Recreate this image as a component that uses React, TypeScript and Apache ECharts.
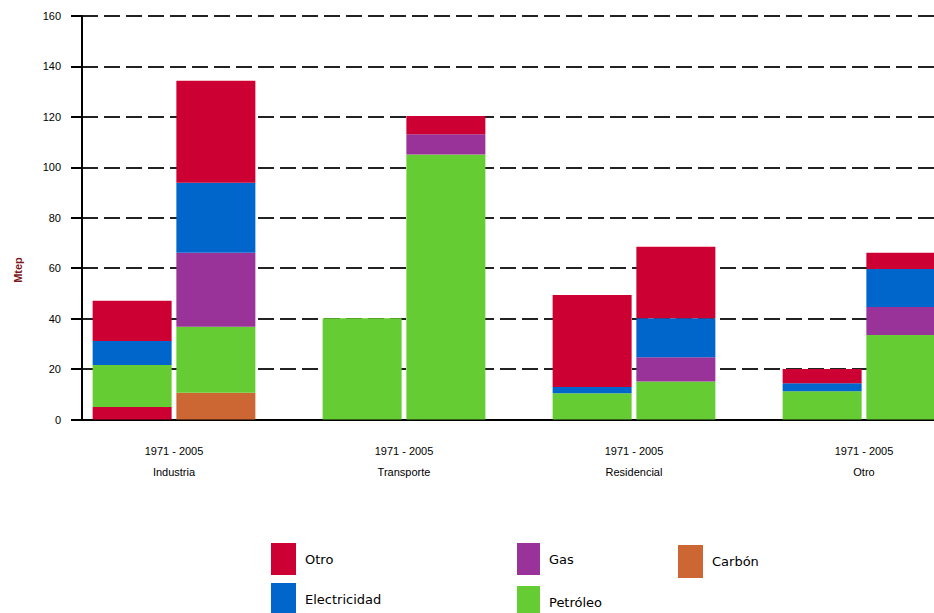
import React, { useEffect, useRef } from "react";
import * as echarts from "echarts";

const categories = ["Industria", "Transporte", "Residencial", "Otro"];
const periodLabel = "1971 - 2005";
const yTicks = { min: 0, max: 160, interval: 20 };

const fuelNames = ["Carbón", "Petróleo", "Gas", "Electricidad", "Otro"];
const fuelColors = ["#CC6633", "#66CC33", "#993399", "#0066CC", "#CC0033"];

// 1971 values (stack bottom-up)
const carbon1971 = [5.0, 0, 0, 0];
const petroleo1971 = [16.6, 40.1, 10.4, 11.2];
const gas1971 = [0, 0, 0, 0];
const elec1971 = [9.5, 0, 2.5, 3.2];
const otro1971 = [16.0, 0, 36.5, 5.6];

// 2005 values
const carbon2005 = [10.6, 0, 0, 0];
const petroleo2005 = [26.2, 105.1, 15.1, 33.5];
const gas2005 = [29.3, 8.0, 9.6, 11.1];
const elec2005 = [27.8, 0, 15.4, 15.1];
const otro2005 = [40.4, 7.2, 28.4, 6.4];

const yAxisName = "Mtep";

export default function App() {
  const ref = useRef<HTMLDivElement>(null);

  useEffect(() => {
    if (!ref.current) return;
    const chart = echarts.init(ref.current, undefined, { renderer: "svg" });

    const data1971 = [carbon1971, petroleo1971, gas1971, elec1971, otro1971];
    const data2005 = [carbon2005, petroleo2005, gas2005, elec2005, otro2005];

    const series: any[] = [];
    const mk = (year: string, arrs: number[][]) => {
      arrs.forEach((arr, i) => {
        series.push({
          type: "bar",
          name: fuelNames[i],
          stack: year,
          xAxisIndex: 1,
          yAxisIndex: 1,
          barWidth: 79,
          barGap: "6%",
          itemStyle: { color: fuelColors[i] },
          data: arr.map((v, j) => {
            // In the original, the 1971 Industria bottom segment is drawn red
            if (year === "1971" && i === 0 && j === 0) {
              return { value: v, itemStyle: { color: "#CC0033" } };
            }
            return v;
          }),
        });
      });
    };
    mk("1971", data1971);
    mk("2005", data2005);

    const legendText = {
      color: "#000",
      fontSize: 13,
      fontFamily: "DejaVu Sans",
      padding: [0, 0, 10, 4],
    };

    chart.setOption({
      animation: false,
      grid: [
        { left: 82, right: 45, top: 16, bottom: 193.5 },
        { left: 59, right: 0, top: 16, bottom: 193.5 },
      ],
      xAxis: [
        {
          type: "value",
          gridIndex: 0,
          min: 0,
          max: 1,
          axisLine: { show: true, lineStyle: { color: "#000", width: 2 } },
          axisTick: { show: false },
          axisLabel: { show: false },
          splitLine: { show: false },
        },
        {
          type: "category",
          gridIndex: 1,
          data: categories,
          axisLine: { show: false },
          axisTick: { show: false },
          axisLabel: {
            formatter: (v: string) => periodLabel + "\n" + v,
            color: "#000",
            fontSize: 11,
            fontFamily: "Liberation Sans",
            lineHeight: 21,
            margin: 21,
          },
        },
      ],
      yAxis: [
        {
          type: "value",
          gridIndex: 0,
          min: yTicks.min,
          max: yTicks.max,
          interval: yTicks.interval,
          axisLine: { show: true, lineStyle: { color: "#000", width: 2 } },
          axisTick: { show: true, length: 11, lineStyle: { color: "#000", width: 2 } },
          axisLabel: {
            color: "#000",
            fontSize: 11,
            fontFamily: "Liberation Sans",
            margin: 21,
          },
          splitLine: {
            show: true,
            lineStyle: { color: "#222", width: 2, type: [16, 6] },
          },
        },
        {
          type: "value",
          gridIndex: 1,
          min: yTicks.min,
          max: yTicks.max,
          show: false,
          splitLine: { show: false },
        },
      ],
      legend: [
        {
          data: ["Otro", "Electricidad"],
          orient: "vertical",
          left: 271,
          top: 543,
          height: 100,
          padding: 0,
          itemWidth: 25,
          itemHeight: 32,
          itemGap: 8,
          icon: "rect",
          textStyle: legendText,
          selectedMode: false,
        },
        {
          data: ["Gas", "Petróleo"],
          orient: "vertical",
          left: 517,
          top: 543,
          height: 100,
          padding: 0,
          itemWidth: 23,
          itemHeight: 32,
          itemGap: 11,
          icon: "rect",
          textStyle: { ...legendText, padding: [0, 0, 8, 4] },
          selectedMode: false,
        },
        {
          data: ["Carbón"],
          orient: "vertical",
          left: 678,
          top: 545,
          padding: 0,
          itemWidth: 25,
          itemHeight: 33,
          icon: "rect",
          textStyle: { ...legendText, padding: [0, 0, 4, 4] },
          selectedMode: false,
        },
      ],
      graphic: [
        {
          type: "text",
          x: 18,
          y: 270,
          rotation: Math.PI / 2,
          style: {
            text: yAxisName,
            fill: "#7a1818",
            font: "bold 11px Liberation Sans",
            textAlign: "center",
            textVerticalAlign: "middle",
          },
        },
      ],
      series,
    });

    return () => chart.dispose();
  }, []);

  return (
    <div
      ref={ref}
      style={{ position: "fixed", left: 0, top: 0, width: 979, height: 613, background: "#fff" }}
    />
  );
}
